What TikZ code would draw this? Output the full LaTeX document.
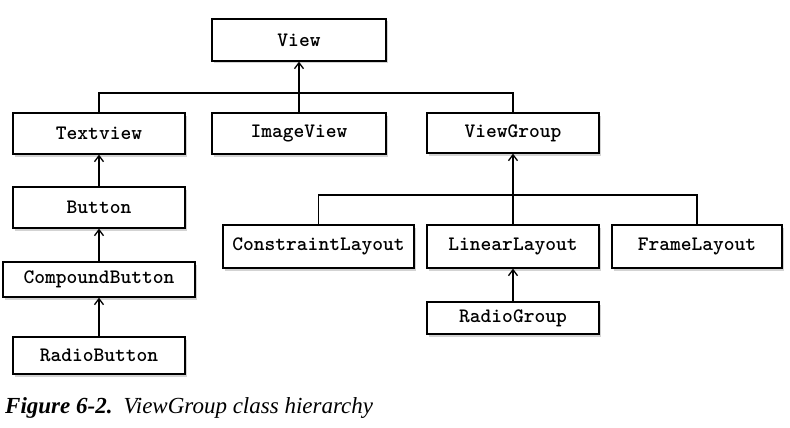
\documentclass[tikz,border=0pt]{standalone}
\usepackage{fontspec}
\usetikzlibrary{arrows.meta,shadows}
\newfontfamily\capfont{Liberation Serif}
\begin{document}
\begin{tikzpicture}[x=1pt,y=-1pt,
  cls/.style={draw, line width=1.3pt, fill=white, inner sep=0pt,
    minimum width=172pt, minimum height=41pt, font=\fontsize{20.5}{22}\ttfamily\bfseries,
    drop shadow={shadow xshift=1.5pt, shadow yshift=-2.5pt, opacity=0.35, fill=gray}},
  link/.style={line width=1.3pt},
  inh/.style={line width=1.6pt, -{Straight Barb[length=6pt,width=9pt,line width=1.3pt]}}]
\useasboundingbox (0,0) rectangle (790,428);
\node[cls, minimum width=174pt, minimum height=42pt] (view) at (299,40) {View};
\node[cls] (tv) at (99,133.5) {Textview};
\node[cls, minimum width=174pt] (iv) at (299,133.5) {ImageView};
\node[cls, minimum height=40pt] (vg) at (513,133) {ViewGroup};
\node[cls] (btn) at (99,207.5) {Button};
\node[cls, minimum width=192pt, minimum height=35pt] (cb) at (99,279.5) {CompoundButton};
\node[cls, minimum height=37pt] (rb) at (99,355.5) {RadioButton};
\node[cls, minimum width=191pt, minimum height=43pt] (cl) at (318.5,246.5) {ConstraintLayout};
\node[cls, minimum height=43pt] (ll) at (513,246.5) {LinearLayout};
\node[cls, minimum width=170pt, minimum height=43pt] (fl) at (697,246.5) {FrameLayout};
\node[cls, minimum height=32pt] (rg) at (513,318) {RadioGroup};
\coordinate (busA) at (299,93);
\coordinate (busB) at (513,195);
\draw[link] (tv.north) |- (busA) -| (vg.north);
\draw[inh] (iv.north) -- (view.south);
\draw[link] (cl.north) |- (busB) -| (fl.north);
\draw[inh] (ll.north) -- (vg.south);
\draw[inh] (btn.north) -- (tv.south);
\draw[inh] (cb.north) -- (btn.south);
\draw[inh] (rb.north) -- (cb.south);
\draw[inh] (rg.north) -- (ll.south);
\node[anchor=base west, inner sep=0pt, font=\fontsize{23}{26}\capfont] (cap) at (5,413)
  {\textbf{\textit{Figure 6-2.}}\hspace{11pt}\textit{ViewGroup class hierarchy}};
\end{tikzpicture}
\end{document}
